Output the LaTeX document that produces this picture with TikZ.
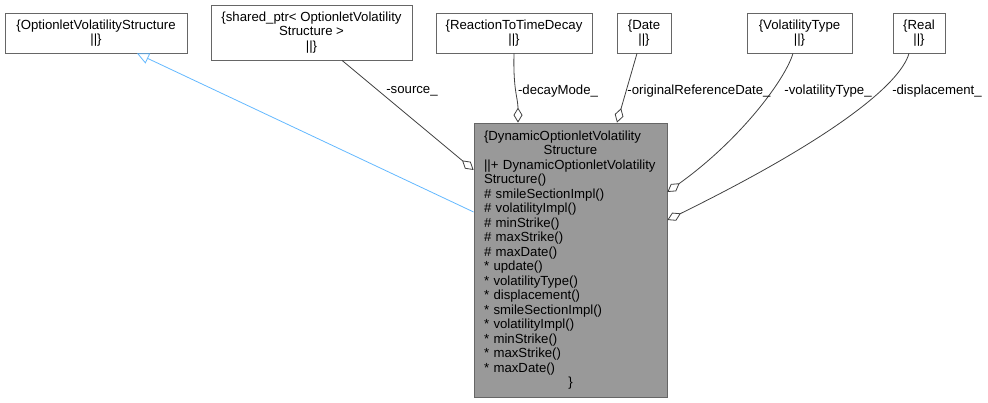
\documentclass[tikz,border=0pt]{standalone}
\usepackage{fontspec}
\setmainfont{Liberation Sans}
\usetikzlibrary{arrows.meta}
\definecolor{boxline}{HTML}{666666}
\definecolor{mainfill}{HTML}{999999}
\definecolor{edgegray}{HTML}{404040}
\definecolor{inheritblue}{HTML}{63B8FF}
\begin{document}
\begin{tikzpicture}[x=1pt,y=-1pt,
  every node/.style={font=\fontsize{13.2}{14.5}\selectfont},
  classbox/.style={draw=boxline, fill=white, line width=0.8pt, align=center, inner sep=0pt, minimum height=40pt},
  mainbox/.style={draw=boxline, fill=mainfill, line width=0.8pt, align=left, inner xsep=10pt, inner ysep=0pt,
    text width=173pt, minimum height=274pt},
  member/.style={draw=edgegray, line width=0.8pt, -{Diamond[length=15pt,width=9pt,fill=white]}},
  inherit/.style={draw=inheritblue, line width=0.8pt, -{Triangle[open,length=12pt,width=11pt]}},
  lbl/.style={inner sep=0pt}]

  \useasboundingbox (0,0) rectangle (988,403);

  % classes along the top
  \node[classbox, minimum width=182pt] (ovs) at (96,33) {\{OptionletVolatilityStructure\\\textbar\textbar\}};
  \node[classbox, minimum width=201pt, minimum height=55pt] (sptr) at (311.5,32.5) {\{shared\_ptr< OptionletVolatility\\Structure >\\\textbar\textbar\}};
  \node[classbox, minimum width=156pt] (rttd) at (514,33) {\{ReactionToTimeDecay\\\textbar\textbar\}};
  \node[classbox, minimum width=54pt] (date) at (644,33) {\{Date\\\textbar\textbar\}};
  \node[classbox, minimum width=105pt] (vtype) at (799.5,33) {\{VolatilityType\\\textbar\textbar\}};
  \node[classbox, minimum width=52pt] (real) at (919,33) {\{Real\\\textbar\textbar\}};

  % the class itself
  \node[mainbox] (dovs) at (570.5,260) {%
    \mbox{\{DynamicOptionletVolatility}\\
    \makebox[\hsize]{Structure}\\
    \mbox{\textbar\textbar+ DynamicOptionletVolatility}\\
    Structure()\\
    \# smileSectionImpl()\\
    \# volatilityImpl()\\
    \# minStrike()\\
    \# maxStrike()\\
    \# maxDate()\\
    {*} update()\\
    {*} volatilityType()\\
    {*} displacement()\\
    {*} smileSectionImpl()\\
    {*} volatilityImpl()\\
    {*} minStrike()\\
    {*} maxStrike()\\
    {*} maxDate()\\
    \makebox[\hsize]{\}}};

  % inheritance
  \draw[inherit] ([yshift=48pt]dovs.west) -- ([xshift=41pt]ovs.south);

  % members
  \draw[member] ([xshift=30.5pt]sptr.south) -- ([yshift=90pt]dovs.west);
  \draw[member] (rttd.south) .. controls (513,90) and (518,98) .. ([xshift=-52.5pt]dovs.north);
  \draw[member] ([xshift=-7pt]date.south) -- ([xshift=46.5pt]dovs.north);
  \draw[member] ([xshift=-6.5pt]vtype.south) .. controls (785,80) and (740,140) .. ([yshift=68pt]dovs.east);
  \draw[member] ([xshift=-10pt]real.south) .. controls (900,85) and (830,140) .. ([yshift=40pt]dovs.east);

  \node[lbl] (lsrc) at (412,91) {-source\_};
  \node[lbl] (ldecay) at (558,91) {-decayMode\_};
  \node[lbl] (ldate) at (699,91) {-originalReferenceDate\_};
  \node[lbl] (lvtype) at (828,91) {-volatilityType\_};
  \node[lbl] (lreal) at (937,91) {-displacement\_};
\end{tikzpicture}
\end{document}
